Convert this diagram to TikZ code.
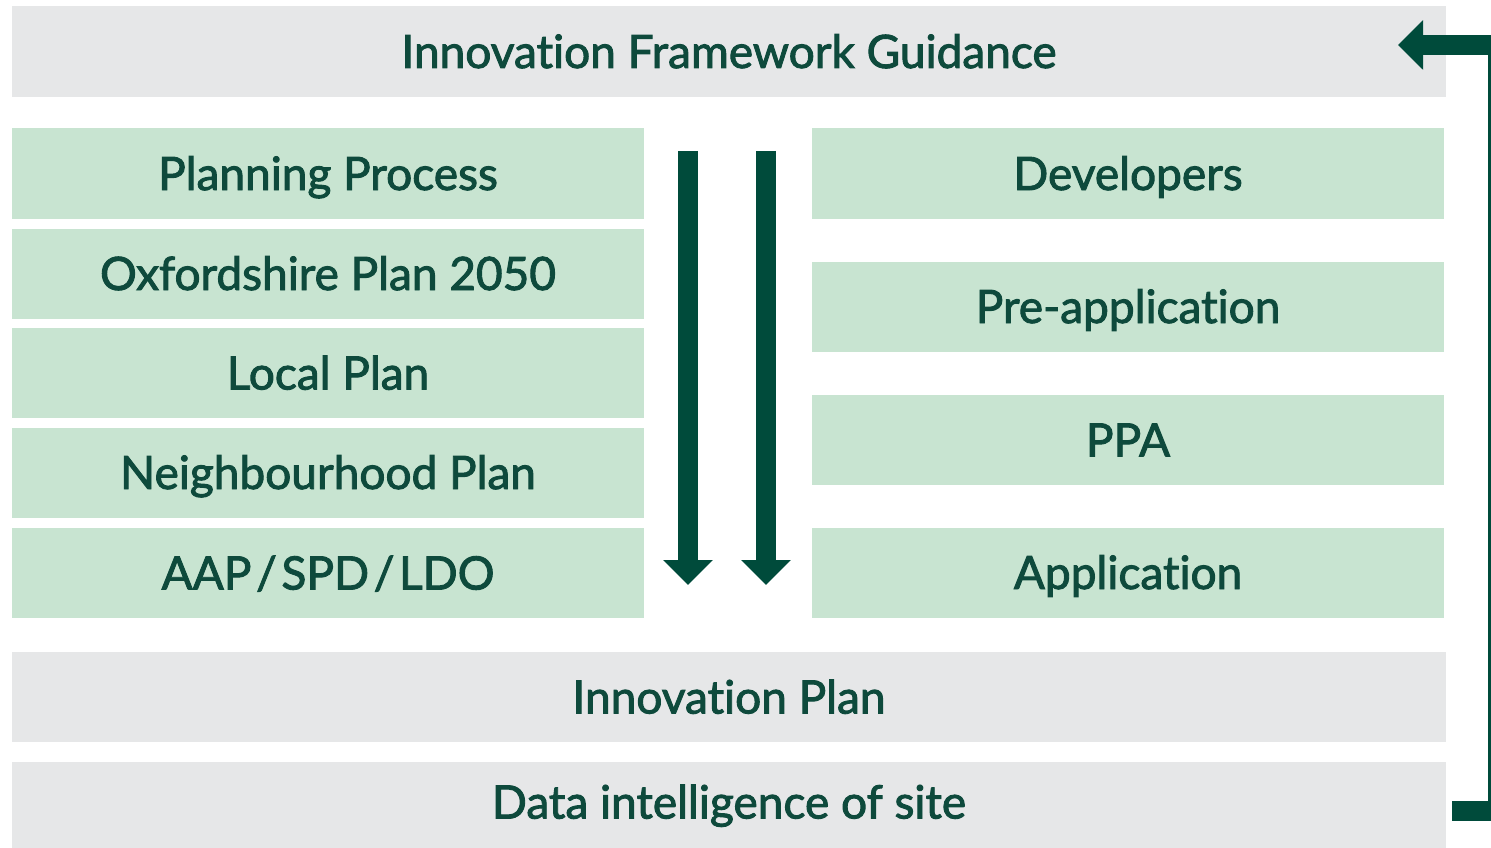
\documentclass[tikz,border=0pt]{standalone}
\usepackage{fontspec}
\setmainfont{Lato}[FakeBold=2, Ligatures=NoCommon]
\usepackage{tikz}
\usetikzlibrary{arrows.meta}

\definecolor{boxgrey}{HTML}{E6E7E8}
\definecolor{boxgreen}{HTML}{C8E4D1}
\definecolor{darkgreen}{HTML}{004B3B}
\definecolor{textgreen}{HTML}{0E4A3C}

\begin{document}
\begin{tikzpicture}[x=1pt, y=-1pt,
  every node/.style={rectangle, inner sep=0pt, text height=33pt, text depth=0pt, text=textgreen, font=\fontsize{46}{52}\selectfont},
  wide/.style={fill=boxgrey, minimum width=1434pt, minimum height=91pt},
  half/.style={fill=boxgreen, minimum width=632pt, minimum height=90pt},
  flow/.style={darkgreen, line width=20pt, -{Triangle[width=48pt, length=25pt]}}]
  \useasboundingbox (0,0) rectangle (1491,848);
  \node[wide] (ifg) at (729,51.5) {Innovation Framework Guidance};
  \node[half] (pp) at (328,173.5) {Planning Process};
  \node[half] (op) at (328,273.5) {Oxfordshire Plan 2050};
  \node[half] (lp) at (328,373) {Local Plan};
  \node[half] (np) at (328,472.5) {Neighbourhood Plan};
  \node[half] (aap) at (328,573) {\spaceskip=.1em AAP / SPD / LDO};
  \node[half] (dev) at (1128,173.5) {Developers};
  \node[half] (pre) at (1128,306.5) {Pre-application};
  \node[half] (ppa) at (1128,440) {PPA};
  \node[half] (app) at (1128,572.5) {Application};
  \node[wide, minimum height=90pt] (ip) at (729,697) {Innovation Plan};
  \node[wide, minimum height=86pt, text depth=6pt] (dis) at (729,805) {Data intelligence of site};

  \coordinate (d1) at (688,151); \coordinate (d1e) at (688,585);
  \coordinate (d2) at (766,151); \coordinate (d2e) at (766,585);
  \coordinate (fb0) at (1452,810.5); \coordinate (fb1) at (1498,810.5);
  \coordinate (fb2) at (1498,45); \coordinate (fb3) at (1398,45);

  \draw[flow] (d1) -- (d1e);
  \draw[flow] (d2) -- (d2e);
  \draw[flow, line join=miter] (fb0) -- (fb1) -- (fb2) -- (fb3);
\end{tikzpicture}
\end{document}
